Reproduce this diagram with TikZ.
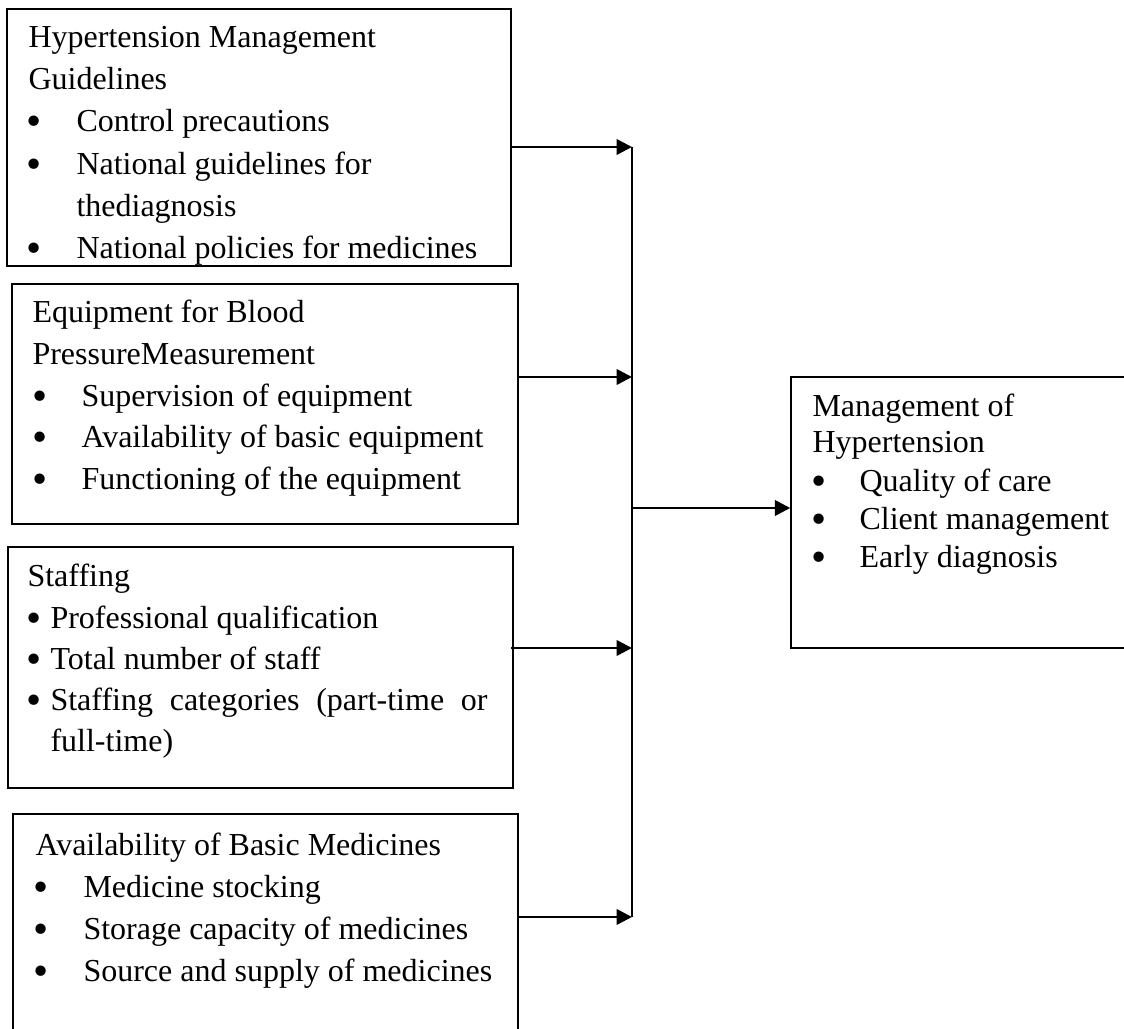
\documentclass[tikz,border=0pt]{standalone}
\usepackage{fontspec}
\setmainfont{Liberation Serif}
\usetikzlibrary{arrows.meta,fit}
\newcommand{\bulletglyph}{\smash{\raisebox{-1.3pt}{\scalebox{1.35}{•}}}}
\begin{document}
\begin{tikzpicture}[x=0.375pt,y=-0.375pt,
  framebox/.style={draw=black, line width=0.55pt, inner sep=0pt},
  txt/.style={anchor=base west, inner sep=0pt, font=\fontsize{12}{14}\selectfont},
  bul/.style={anchor=base west, inner sep=0pt, font=\fontsize{12}{14}\selectfont},
  arr/.style={line width=1pt, -{Triangle[length=5.8pt,width=5.8pt]}},
  trunk/.style={line width=0.9pt}]
\clip (0,0) rectangle (1124,1029);
% boxes
\node[framebox, fit={(7,9) (511,266)}] (b1) {};
\node[framebox, fit={(12,284) (518,524)}] (b2) {};
\node[framebox, fit={(8,547) (513,788)}] (b3) {};
\node[framebox, fit={(13,814) (518,1040)}] (b4) {};
\node[framebox, fit={(791,377) (1140,648)}] (rb) {};
% box 1 text
\node[txt] (t11) at (28,48) {Hypertension Management};
\node[txt] (t12) at (28,90) {Guidelines};
\node[bul] (u13) at (26,132) {\bulletglyph};
\node[txt] (t13) at (76,132) {Control precautions};
\node[bul] (u14) at (26,175) {\bulletglyph};
\node[txt] (t14) at (76,175) {National guidelines for};
\node[txt] (t15) at (76,217) {thediagnosis};
\node[bul] (u16) at (26,259) {\bulletglyph};
\node[txt] (t16) at (76,259) {National policies for medicines};
% box 2 text
\node[txt] (t21) at (32,323) {Equipment for Blood};
\node[txt] (t22) at (32,365) {PressureMeasurement};
\node[bul] (u23) at (32,407) {\bulletglyph};
\node[txt] (t23) at (81,407) {Supervision of equipment};
\node[bul] (u24) at (32,448) {\bulletglyph};
\node[txt] (t24) at (81,448) {Availability of basic equipment};
\node[bul] (u25) at (32,490) {\bulletglyph};
\node[txt] (t25) at (81,490) {Functioning of the equipment};
% box 3 text
\node[txt] (t31) at (27,587) {Staffing};
\node[bul] (u32) at (26,629) {\bulletglyph};
\node[txt] (t32) at (50,629) {Professional qualification};
\node[bul] (u33) at (26,670) {\bulletglyph};
\node[txt] (t33) at (50,670) {Total number of staff};
\node[bul] (u34) at (26,711) {\bulletglyph};
\node[txt] (t34) at (50,711) {\makebox[163.9pt][s]{Staffing categories (part-time or}};
\node[txt] (t35) at (50,752) {full-time)};
% box 4 text
\node[txt] (t41) at (35,856) {Availability of Basic Medicines};
\node[bul] (u42) at (33,898) {\bulletglyph};
\node[txt] (t42) at (83,898) {Medicine stocking};
\node[bul] (u43) at (33,940) {\bulletglyph};
\node[txt] (t43) at (83,940) {Storage capacity of medicines};
\node[bul] (u44) at (33,982) {\bulletglyph};
\node[txt] (t44) at (83,982) {Source and supply of medicines};
% right box text
\node[txt] (r1) at (812,417) {Management of};
\node[txt] (r2) at (812,453) {Hypertension};
\node[bul] (v3) at (811,492) {\bulletglyph};
\node[txt] (r3) at (859,492) {Quality of care};
\node[bul] (v4) at (811,530) {\bulletglyph};
\node[txt] (r4) at (859,530) {Client management};
\node[bul] (v5) at (811,568) {\bulletglyph};
\node[txt] (r5) at (859,568) {Early diagnosis};
% junctions on the trunk
\coordinate (j1) at (632,147);
\coordinate (j2) at (632,377);
\coordinate (j3) at (632,648);
\coordinate (j4) at (632,917);
\coordinate (jm) at (632,508);
% connectors
\draw[arr] (b1.east |- j1) -- (j1);
\draw[arr] (b2.east |- j2) -- (j2);
\draw[arr] ([xshift=-1.1pt]b3.east |- j3) -- (j3);
\draw[arr] (b4.east |- j4) -- (j4);
\draw[trunk] (j1) -- (j4);
\draw[arr] (jm) -- (rb.west |- jm);
\end{tikzpicture}
\end{document}
